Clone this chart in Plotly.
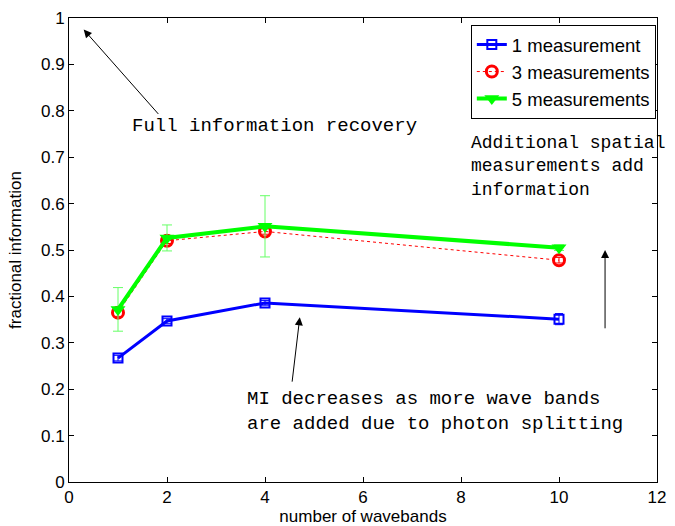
import plotly.graph_objects as go

wavebands = [1, 2, 4, 10]
meas1 = [0.267, 0.347, 0.386, 0.351]
meas1_err = [0.006, 0.005, 0.005, 0.012]
meas3 = [0.365, 0.520, 0.540, 0.478]
meas3_err = [0.008, 0.006, 0.006, 0.006]
meas5 = [0.372, 0.526, 0.551, 0.505]
meas5_err = [0.047, 0.028, 0.066, 0.006]

fig = go.Figure()
fig.add_trace(go.Scatter(
    x=wavebands, y=meas1, name="1 measurement", mode="lines+markers",
    line=dict(color="#0000ff", width=3),
    marker=dict(symbol="square-open", size=9, color="#0000ff", line=dict(width=2)),
    error_y=dict(type="data", array=meas1_err, color="#0000ff", thickness=1, width=4),
))
fig.add_trace(go.Scatter(
    x=wavebands, y=meas3, name="3 measurements", mode="lines+markers",
    line=dict(color="#ff0000", width=1, dash="dot"),
    marker=dict(symbol="circle-open", size=11, color="#ff0000", line=dict(width=3)),
    error_y=dict(type="data", array=meas3_err, color="#ff0000", thickness=1, width=4),
))
fig.add_trace(go.Scatter(
    x=wavebands, y=meas5, name="5 measurements", mode="lines+markers",
    line=dict(color="#00ff00", width=4),
    marker=dict(symbol="triangle-down", size=13, color="#00ff00"),
    error_y=dict(type="data", array=meas5_err, color="#66ff66", thickness=1, width=5),
))

mono = dict(family="Liberation Mono, Courier New, monospace", size=19, color="black")
mono_small = dict(family="Liberation Mono, Courier New, monospace", size=18, color="black")

fig.add_annotation(x=0.3, y=0.975, ax=1.85, ay=0.79, xref="x", yref="y", axref="x", ayref="y",
                   showarrow=True, arrowhead=2, arrowsize=1.6, arrowwidth=1, arrowcolor="black", text="")
fig.add_annotation(x=1.25, y=0.767, xref="x", yref="y", text="Full information recovery",
                   showarrow=False, xanchor="left", yanchor="middle", font=mono)
fig.add_annotation(x=4.71, y=0.355, ax=4.55, ay=0.213, xref="x", yref="y", axref="x", ayref="y",
                   showarrow=True, arrowhead=2, arrowsize=1.6, arrowwidth=1, arrowcolor="black", text="")
fig.add_annotation(x=3.6, y=0.153, xref="x", yref="y",
                   text="MI decreases as more wave bands<br>are added due to photon splitting",
                   showarrow=False, xanchor="left", yanchor="middle", align="left", font=mono)
fig.add_annotation(x=10.94, y=0.5, ax=10.94, ay=0.328, xref="x", yref="y", axref="x", ayref="y",
                   showarrow=True, arrowhead=2, arrowsize=1.6, arrowwidth=1, arrowcolor="black", text="")
fig.add_annotation(x=8.17, y=0.68, xref="x", yref="y",
                   text="Additional spatial<br>measurements add<br>information",
                   showarrow=False, xanchor="left", yanchor="middle", align="left", font=mono_small)

axis_common = dict(showgrid=False, zeroline=False, showline=True, linecolor="black", linewidth=1,
                   mirror="ticks", ticks="inside", ticklen=5, tickcolor="black", automargin=False,
                   tickfont=dict(family="Liberation Sans, Arial", size=17, color="black"))

fig.update_layout(
    width=675, height=526,
    margin=dict(l=69, r=18, t=18, b=44),
    paper_bgcolor="white", plot_bgcolor="white",
    font=dict(family="Liberation Sans, Arial", color="black"),
    xaxis=dict(range=[0, 12], tickvals=[0, 2, 4, 6, 8, 10, 12],
               title=dict(text="number of wavebands", font=dict(size=17)), **axis_common),
    yaxis=dict(range=[0, 1], tickvals=[0, 0.1, 0.2, 0.3, 0.4, 0.5, 0.6, 0.7, 0.8, 0.9, 1],
               ticktext=["0", "0.1", "0.2", "0.3", "0.4", "0.5", "0.6", "0.7", "0.8", "0.9", "1"],
               title=dict(text="fractional information", font=dict(size=17)), **axis_common),
    legend=dict(x=0.998, y=0.985, xanchor="right", yanchor="top", bordercolor="black", borderwidth=1,
                bgcolor="white", font=dict(size=18.5), tracegroupgap=0, itemwidth=30),
    showlegend=True,
)

fig.write_html("out.html", config={"displayModeBar": False},
               post_script="document.body.style.margin='0';document.body.style.overflow='hidden';")
